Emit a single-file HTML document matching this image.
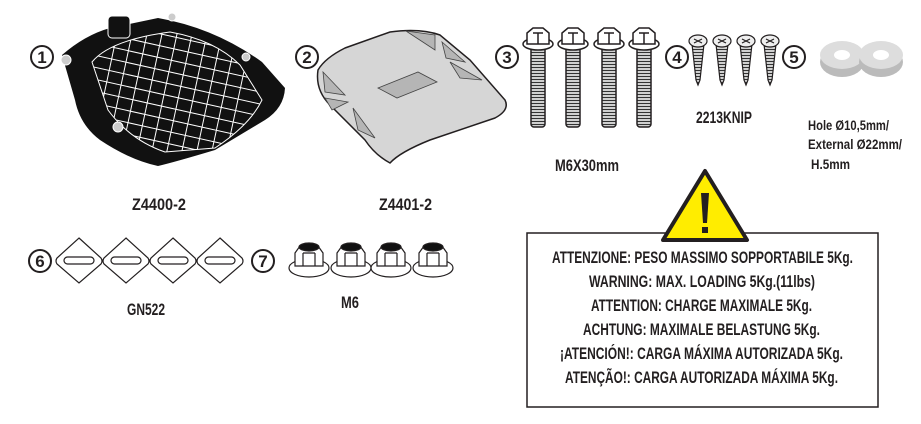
<!DOCTYPE html>
<html><head><meta charset="utf-8"><style>
html,body{margin:0;padding:0;background:#fff;}
svg{display:block}
text{font-family:"Liberation Sans Narrow","Liberation Sans",sans-serif;font-weight:bold;fill:#231f20}
.n{font-size:17px;text-anchor:middle}
.l{font-size:17px}
</style></head><body>
<svg width="921" height="424" viewBox="0 0 921 424" xmlns="http://www.w3.org/2000/svg">
<defs>
<clipPath id="g"><path d="M92,62 Q110,40 170,32 Q215,40 240,65 L262,100 Q250,125 215,148 L165,152 Q130,140 108,110 Z"/></clipPath>
<pattern id="th" width="4" height="3" patternUnits="userSpaceOnUse"><rect width="4" height="3" fill="#d0d0d0"/><line x1="0" y1="1.5" x2="4" y2="1.5" stroke="#333" stroke-width="1"/></pattern>
</defs>
<g fill="#fff" stroke="#231f20" stroke-width="2">
<circle cx="42" cy="57" r="11"/><circle cx="307" cy="57" r="11"/><circle cx="507" cy="57" r="11"/>
<circle cx="677" cy="57" r="11"/><circle cx="794" cy="57" r="11"/><circle cx="40" cy="261" r="11"/><circle cx="263" cy="261" r="11"/>
</g>
<text class="n" x="42" y="63">1</text><text class="n" x="307" y="63">2</text><text class="n" x="507" y="63">3</text>
<text class="n" x="677" y="63">4</text><text class="n" x="794" y="63">5</text><text class="n" x="40" y="267">6</text><text class="n" x="263" y="267">7</text>
<!-- item 1 tray -->
<path d="M62,55 Q85,35 110,28 L158,18 Q215,28 262,62 L285,88 Q284,108 265,120 L215,150 Q175,162 158,166 Q130,160 100,140 Q80,125 75,100 Z" fill="#111"/>
<rect x="108" y="16" width="22" height="22" rx="4" fill="#111" stroke="#fff" stroke-width="1"/>
<g clip-path="url(#g)" stroke="#fff" stroke-width="1">
<path d="M80,40 L260,80 M80,52 L260,92 M80,64 L260,104 M80,76 L260,116 M80,88 L260,128 M80,100 L260,140 M80,112 L260,152 M80,124 L260,164 M80,28 L260,68 M80,16 L260,56"/>
<path d="M120,160 L150,20 M135,160 L165,20 M150,160 L180,20 M165,160 L195,20 M180,160 L210,20 M195,160 L225,20 M210,160 L240,20 M225,160 L255,20 M105,160 L135,20 M90,160 L120,20"/>
</g>
<path d="M92,62 Q110,40 170,32 Q215,40 240,65 L262,100 Q250,125 215,148 L165,152 Q130,140 108,110 Z" fill="none" stroke="#fff" stroke-width="1"/>
<g fill="#ccc" stroke="#fff"><circle cx="66" cy="60" r="5"/><circle cx="172" cy="17" r="4"/><circle cx="246" cy="57" r="4"/><circle cx="118" cy="127" r="5"/></g>
<!-- item 2 plate -->
<path d="M318,70 Q325,58 345,48 L390,32 Q420,28 440,35 L470,60 L505,100 Q510,110 495,118 L430,140 Q400,152 390,163 Q375,155 365,140 L330,105 Q315,90 318,70 Z" fill="#d6d6d6" stroke="#231f20" stroke-width="1.5"/>
<g fill="#b5b5b5" stroke="#444" stroke-width="0.8">
<path d="M323,72 L345,95 L325,92 Z"/><path d="M325,98 L348,102 L332,110 Z"/><path d="M353,108 L375,138 L358,130 Z"/>
<path d="M406,31 L435,35 L435,50 Z"/><path d="M442,42 L465,62 L446,58 Z"/><path d="M450,62 L482,80 L460,78 Z"/>
<path d="M378,88 L418,72 L437,82 L397,98 Z"/>
</g>
<!-- bolts -->
<g stroke="#231f20" stroke-width="1.5">
<g id="b"><rect x="531" y="47" width="14" height="80" rx="3" fill="url(#th)"/><ellipse cx="538" cy="44" rx="15" ry="6" fill="#fff"/><path d="M527,44 L527,33 L533,28 L543,28 L549,33 L549,44 Z" fill="#fff"/><path d="M533,33 L543,33 M538,33 L538,44" fill="none"/></g>
<use href="#b" x="35"/><use href="#b" x="71"/><use href="#b" x="106"/>
</g>
<!-- screws -->
<g stroke="#231f20" stroke-width="1.2">
<g id="s"><path d="M692,44 L704,44 L700,80 L698,85 L696,80 Z" fill="url(#th)"/><ellipse cx="698" cy="41" rx="9" ry="6" fill="#eee"/><path d="M694,39 L702,43 M702,39 L694,43" fill="none"/></g>
<use href="#s" x="24"/><use href="#s" x="48"/><use href="#s" x="72"/>
</g>
<!-- washers -->
<g>
<ellipse cx="842" cy="62" rx="22" ry="15" fill="#bbb"/><ellipse cx="842" cy="55" rx="22" ry="14" fill="#ddd"/><ellipse cx="842" cy="55" rx="8" ry="5" fill="#fff"/>
<ellipse cx="881" cy="62" rx="22" ry="15" fill="#bbb"/><ellipse cx="881" cy="55" rx="22" ry="14" fill="#ddd"/><ellipse cx="881" cy="55" rx="8" ry="5" fill="#fff"/>
</g>
<!-- diamonds -->
<g fill="#fff" stroke="#231f20" stroke-width="1.2">
<g id="d"><path d="M79,238 L101,258 Q103,261 101,264 L79,283 L57,264 Q55,261 57,258 Z"/><rect x="64" y="257" width="30" height="7" rx="3.5"/></g>
<use href="#d" x="47"/><use href="#d" x="94"/><use href="#d" x="141"/>
</g>
<!-- nuts -->
<g stroke="#231f20" stroke-width="1.2">
<g id="nt"><ellipse cx="309" cy="268" rx="20" ry="9" fill="#fff"/><path d="M295,253 L300,246 L318,246 L323,253 L323,266 L295,266 Z" fill="#fff"/><path d="M303,253 L315,253 M303,253 L303,266 M315,253 L315,266" fill="none"/><ellipse cx="309" cy="247" rx="10" ry="4" fill="#111"/></g>
<use href="#nt" x="42"/><use href="#nt" x="82"/><use href="#nt" x="124"/>
</g>
<!-- labels -->
<text class="l" x="132" y="210" textLength="54" lengthAdjust="spacingAndGlyphs">Z4400-2</text>
<text class="l" x="379" y="210" textLength="53" lengthAdjust="spacingAndGlyphs">Z4401-2</text>
<text class="l" x="555" y="171" textLength="64" lengthAdjust="spacingAndGlyphs">M6X30mm</text>
<text class="l" x="696" y="123" textLength="56" lengthAdjust="spacingAndGlyphs">2213KNIP</text>
<text x="808" y="130" style="font-size:14px" textLength="81" lengthAdjust="spacingAndGlyphs">Hole Ø10,5mm/</text>
<text x="808" y="149" style="font-size:14px" textLength="94" lengthAdjust="spacingAndGlyphs">External Ø22mm/</text>
<text x="811" y="169" style="font-size:14px" textLength="39" lengthAdjust="spacingAndGlyphs">H.5mm</text>
<text class="l" x="127" y="315" textLength="38" lengthAdjust="spacingAndGlyphs">GN522</text>
<text class="l" x="341" y="308" textLength="18" lengthAdjust="spacingAndGlyphs">M6</text>
<!-- warning box -->
<rect x="527" y="233" width="351" height="174" fill="#fff" stroke="#231f20" stroke-width="1.5"/>
<path d="M705,171 L747,240 L663,240 Z" fill="#ffed00" stroke="#231f20" stroke-width="4" stroke-linejoin="round"/>
<path d="M701,193 L709,193 L707,223 L703,223 Z" fill="#231f20"/><rect x="702" y="227" width="6" height="6" fill="#231f20"/>
<g style="font-size:17px">
<text x="552" y="263" textLength="301" lengthAdjust="spacingAndGlyphs">ATTENZIONE: PESO MASSIMO SOPPORTABILE 5Kg.</text>
<text x="589" y="287" textLength="226" lengthAdjust="spacingAndGlyphs">WARNING: MAX. LOADING 5Kg.(11lbs)</text>
<text x="591" y="311" textLength="221" lengthAdjust="spacingAndGlyphs">ATTENTION: CHARGE MAXIMALE 5Kg.</text>
<text x="583" y="335" textLength="237" lengthAdjust="spacingAndGlyphs">ACHTUNG: MAXIMALE BELASTUNG 5Kg.</text>
<text x="560" y="359" textLength="283" lengthAdjust="spacingAndGlyphs">¡ATENCIÓN!: CARGA MÁXIMA AUTORIZADA 5Kg.</text>
<text x="565" y="383" textLength="273" lengthAdjust="spacingAndGlyphs">ATENÇÃO!: CARGA AUTORIZADA MÁXIMA 5Kg.</text>
</g>
</svg>
</body></html>
